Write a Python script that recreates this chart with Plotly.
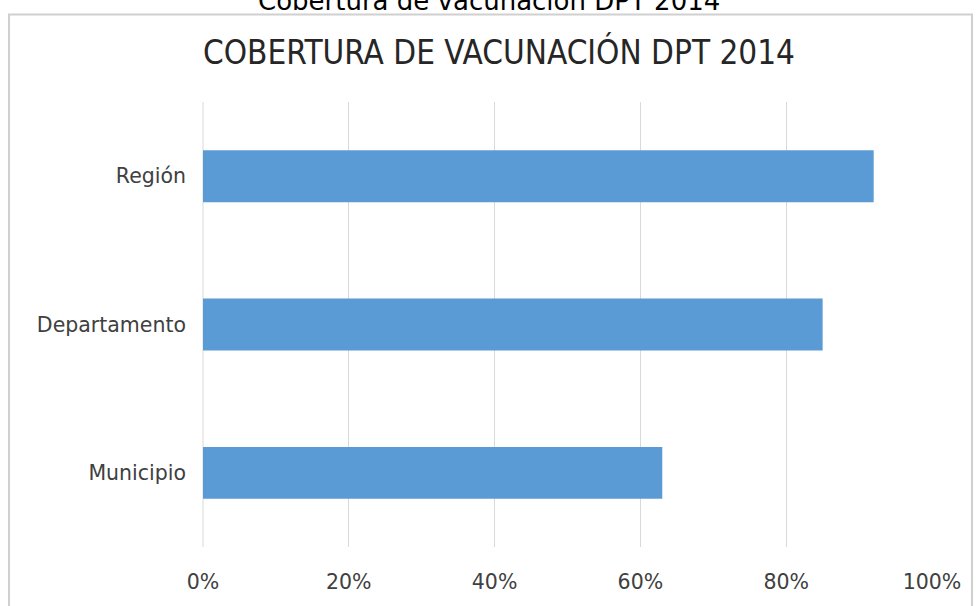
import plotly.graph_objects as go

categories = ["Región", "Departamento", "Municipio"]
coverage = [0.92, 0.85, 0.63]
x_ticks = [0, 0.2, 0.4, 0.6, 0.8, 1.0]
x_tick_labels = ["0%", "20%", "40%", "60%", "80%", "100%"]

fig = go.Figure(
    go.Bar(
        x=coverage,
        y=categories,
        orientation="h",
        marker=dict(color="#5b9bd5", line=dict(width=0)),
        width=0.35,
    )
)

fig.update_layout(
    width=978,
    height=606,
    margin=dict(l=203, r=46, t=102, b=56),
    paper_bgcolor="white",
    plot_bgcolor="white",
    showlegend=False,
    font=dict(family="DejaVu Sans", color="#404040", size=20.5),
    title=dict(
        text="COBERTURA DE VACUNACIÓN DPT 2014",
        x=0.406,
        xref="paper",
        xanchor="center",
        y=1 - 52 / 606,
        yanchor="middle",
        font=dict(family="DejaVu Sans Condensed, DejaVu Sans", size=33, color="#262626"),
    ),
    xaxis=dict(
        range=[0, 1],
        tickvals=x_ticks,
        ticktext=x_tick_labels,
        showgrid=True,
        gridcolor="#d9d9d9",
        gridwidth=1,
        zeroline=False,
        showline=False,
        ticklabelstandoff=20,
        fixedrange=True,
    ),
    yaxis=dict(
        autorange="reversed",
        showgrid=False,
        zeroline=False,
        showline=False,
        ticklabelstandoff=16,
    ),
    shapes=[
        dict(
            type="rect", xref="paper", yref="paper",
            x0=(9 - 203) / 729, x1=(972 - 203) / 729,
            y0=(550 - 620) / 448, y1=(550 - 14) / 448,
            line=dict(color="#d0d0d0", width=2),
            fillcolor="rgba(0,0,0,0)", layer="below",
        ),
        dict(
            type="line", xref="paper", yref="paper",
            x0=0, x1=0, y0=0, y1=1,
            line=dict(color="#d9d9d9", width=1), layer="below",
        ),
    ],
    annotations=[
        dict(
            text="Cobertura de vacunación DPT 2014",
            xref="paper", yref="paper",
            x=(489 - 203) / 729, y=(550 - 17) / 448,
            xanchor="center", yanchor="bottom",
            showarrow=False,
            font=dict(family="DejaVu Sans", size=26, color="#000000"),
        )
    ],
)

fig.write_html(
    "out.html",
    config={"displayModeBar": False},
    post_script="document.body.style.margin='0';document.body.style.overflow='hidden';",
)
